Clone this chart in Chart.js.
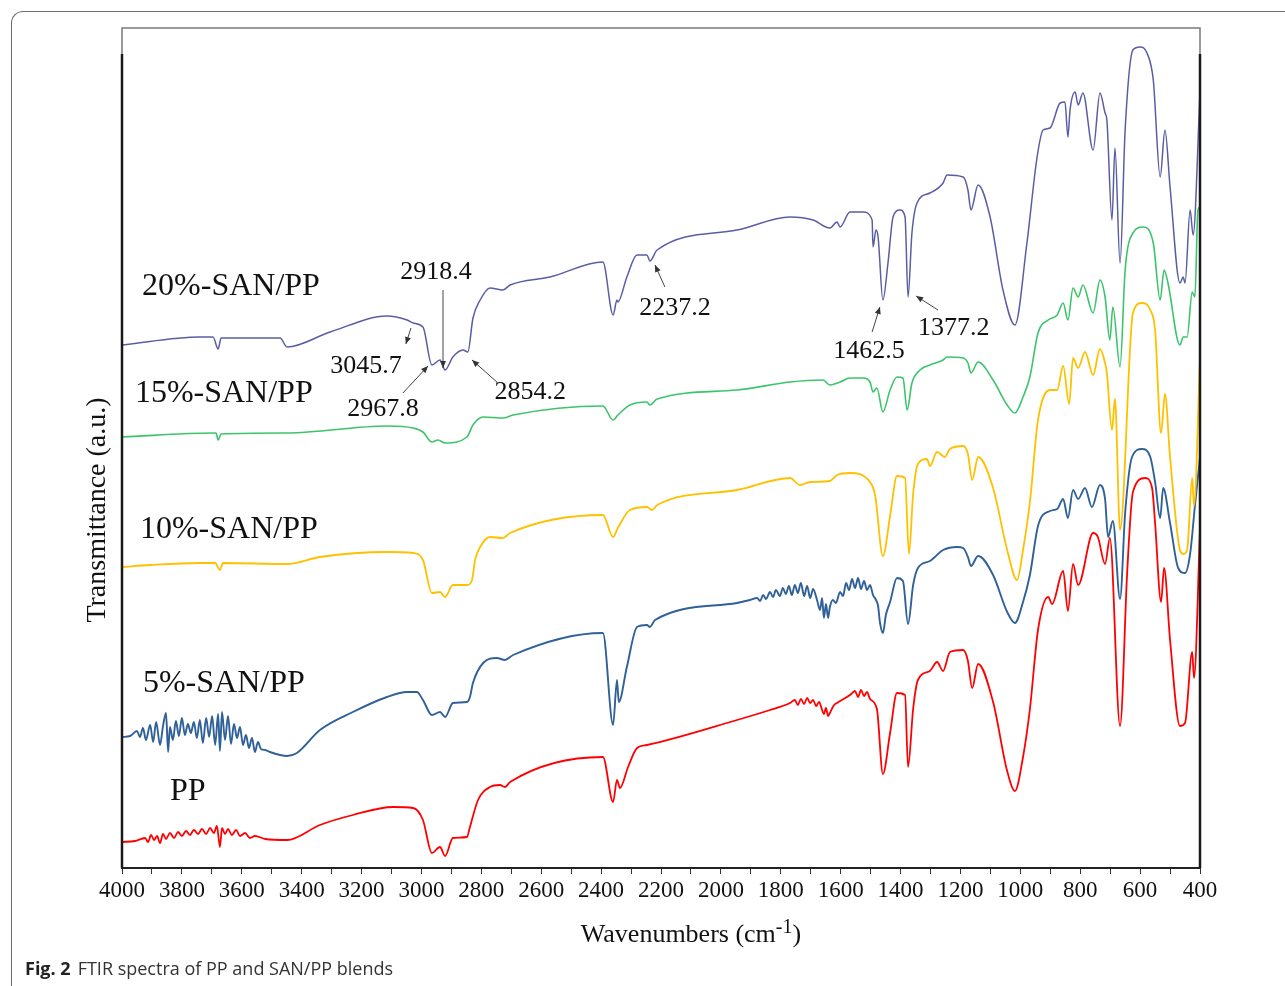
<!DOCTYPE html>
<html lang="en">
<head>
  <meta charset="UTF-8">
  <title>FTIR spectra of PP and SAN/PP blends</title>
  <script src="https://cdn.jsdelivr.net/npm/chart.js"></script>
  <style>
    body { margin: 0; background: #fff; }
    #wrap { position: relative; width: 1285px; height: 986px; overflow: hidden; }
    /* figure box of the journal page */
    #frame {
      position: absolute; left: 11px; top: 11px; width: 1320px; height: 1010px;
      border-top: 1.5px solid #6e6e6e; border-left: 1.5px solid #6e6e6e;
      border-top-left-radius: 12px;
    }
    #box { position: absolute; left: 0; top: 0; width: 1285px; height: 986px; }
    #caption {
      position: absolute; left: 25px; top: 956px;
      font-family: "Open Sans", sans-serif; font-size: 18px; color: #333;
    }
    #caption b { color: #222; margin-right: 7px; }
  </style>
</head>
<body>
<div id="wrap">
  <div id="frame"></div>
  <div id="box"><canvas id="ftir"></canvas></div>
  <div id="caption"><b>Fig. 2</b>FTIR spectra of PP and SAN/PP blends</div>
</div>

<script>
// x tick labels (wavenumber, cm-1)
const xTicks = [4000, 3800, 3600, 3400, 3200, 3000, 2800, 2600, 2400, 2200, 2000, 1800, 1600, 1400, 1200, 1000, 800, 600, 400];

// spectra: [wavenumber, transmittance (a.u., stacked offset)]
const san20 = [
  [4000,523],[3740,531],[3696,531],[3679,519],[3669,530],[3472,530],[3449,521],[3305,536],[3115,552],
  [3048,548],[3028,545],[2995,541],[2965,503],[2938,508],[2921,498],[2895,511],[2861,518],[2845,516],
  [2828,550],[2804,568],[2771,580],[2728,578],[2704,583],[2571,591],[2394,606],[2360,553],[2347,568],
  [2344,566],[2314,591],[2280,613],[2247,613],[2237,607],[2213,618],[1946,638],[1769,651],[1692,648],
  [1636,640],[1612,646],[1602,641],[1569,656],[1525,656],[1495,648],[1492,621],[1482,638],[1475,631],
  [1459,568],[1442,605],[1425,651],[1402,658],[1385,651],[1375,571],[1362,635],[1345,665],[1302,675],
  [1258,685],[1245,693],[1191,691],[1175,678],[1165,658],[1141,683],[1101,651],[1058,578],[1018,543],
  [978,625],[944,711],[924,738],[901,740],[867,765],[851,766],[841,731],[834,758],[817,776],[807,763],
  [791,775],[757,718],[734,775],[717,755],[711,748],[694,648],[684,720],[667,605],[650,738],[624,818],
  [600,821],[577,815],[556,788],[533,691],[517,738],[500,681],[467,585],[456,591],[450,585],[433,658],
  [423,633],[400,775]
];

const san15 = [
  [4000,431],[3696,435],[3686,435],[3679,428],[3669,434],[3449,435],[3115,442],[3028,440],[2995,436],
  [2965,426],[2945,428],[2921,425],[2848,431],[2828,443],[2794,451],[2728,450],[2694,453],[2394,462],
  [2360,448],[2344,453],[2304,463],[2247,466],[2237,463],[2213,469],[1946,478],[1769,486],[1659,488],
  [1636,483],[1602,486],[1569,490],[1525,490],[1502,486],[1492,476],[1479,480],[1459,456],[1435,478],
  [1412,491],[1392,490],[1378,458],[1362,485],[1335,498],[1302,503],[1258,508],[1245,511],[1191,510],
  [1175,505],[1165,495],[1141,506],[1091,488],[1044,463],[1018,455],[991,471],[968,491],[941,535],
  [907,548],[877,553],[857,565],[841,548],[824,580],[807,571],[791,583],[757,555],[734,588],[717,571],
  [701,528],[691,561],[667,501],[650,598],[624,635],[590,641],[556,625],[533,568],[520,598],[507,585],
  [467,523],[456,531],[443,531],[426,576],[417,571],[407,658],[400,661]
];

const san10 = [
  [4000,301],[3906,303],[3740,305],[3689,305],[3673,298],[3663,305],[3449,304],[3339,311],[3115,316],
  [3028,315],[2995,308],[2965,275],[2938,276],[2921,271],[2895,283],[2848,283],[2831,288],[2821,308],
  [2804,321],[2771,331],[2728,330],[2704,335],[2394,353],[2360,331],[2344,340],[2304,358],[2247,361],
  [2230,358],[2213,363],[1946,378],[1769,390],[1736,383],[1702,386],[1636,387],[1612,393],[1569,395],
  [1502,386],[1485,373],[1459,312],[1435,352],[1412,392],[1385,390],[1372,314],[1358,374],[1342,404],
  [1312,409],[1302,402],[1278,416],[1252,411],[1235,419],[1191,422],[1175,414],[1161,388],[1141,411],
  [1091,380],[1044,318],[1011,288],[991,318],[968,366],[941,448],[901,478],[877,478],[857,502],[837,464],
  [824,510],[807,500],[784,516],[757,493],[734,519],[717,505],[711,495],[694,438],[684,469],[667,338],
  [624,555],[594,565],[566,558],[550,538],[530,435],[517,474],[500,411],[467,318],[456,314],[443,318],
  [426,390],[420,362],[400,509]
];

const san5 = [
  [4000,131],[3973,132],[3950,137],[3940,131],[3930,140],[3920,128],[3906,143],[3896,126],[3886,146],
  [3873,123],[3863,142],[3853,155],[3846,116],[3840,141],[3830,128],[3820,147],[3810,132],[3800,150],
  [3790,133],[3780,144],[3770,135],[3760,146],[3750,130],[3740,148],[3730,125],[3719,150],[3709,131],
  [3699,152],[3689,123],[3679,154],[3673,117],[3666,156],[3656,128],[3646,152],[3636,124],[3626,144],
  [3616,130],[3606,141],[3596,123],[3586,133],[3576,120],[3566,130],[3556,116],[3546,126],[3536,119],
  [3522,118],[3506,116],[3472,113],[3449,112],[3416,115],[3339,138],[3229,156],[3115,171],[3048,176],
  [3015,176],[2995,168],[2965,153],[2938,156],[2921,151],[2895,165],[2848,166],[2838,171],[2828,185],
  [2794,205],[2748,210],[2721,208],[2694,213],[2394,235],[2360,143],[2347,188],[2341,166],[2314,201],
  [2280,241],[2247,243],[2237,241],[2220,248],[1946,265],[1903,268],[1879,270],[1869,267],[1859,273],
  [1849,269],[1836,276],[1826,271],[1816,278],[1803,272],[1793,280],[1783,274],[1773,282],[1763,273],
  [1753,283],[1743,275],[1733,285],[1722,272],[1712,282],[1702,270],[1692,279],[1679,268],[1669,258],
  [1662,270],[1656,250],[1649,264],[1642,250],[1636,261],[1626,268],[1616,265],[1602,276],[1592,272],
  [1582,285],[1572,278],[1562,289],[1552,280],[1542,290],[1532,279],[1522,287],[1512,278],[1502,283],
  [1492,273],[1482,268],[1475,262],[1469,246],[1459,235],[1449,253],[1435,266],[1412,290],[1392,287],
  [1375,244],[1358,283],[1342,300],[1302,307],[1258,318],[1211,321],[1191,320],[1175,311],[1165,302],
  [1141,312],[1091,293],[1044,256],[1018,245],[991,266],[968,293],[941,342],[901,357],[877,359],
  [857,369],[841,350],[824,378],[807,369],[784,380],[761,361],[734,383],[717,369],[707,331],[691,347],
  [667,269],[650,355],[627,411],[594,419],[566,411],[550,386],[533,350],[523,380],[500,345],[473,300],
  [450,295],[433,314],[417,362],[400,411]
];

const pp = [
  [4000,26],[3957,27],[3923,30],[3913,26],[3903,33],[3893,28],[3883,32],[3873,25],[3863,34],[3853,29],
  [3840,35],[3826,30],[3813,36],[3800,32],[3786,37],[3773,33],[3760,38],[3746,34],[3733,39],[3719,34],
  [3706,40],[3693,35],[3683,42],[3673,21],[3666,40],[3656,34],[3646,39],[3633,33],[3619,38],[3606,32],
  [3589,35],[3573,30],[3556,32],[3522,29],[3449,28],[3339,43],[3229,53],[3095,61],[3028,60],[2995,48],
  [2965,15],[2938,21],[2921,12],[2895,30],[2848,31],[2838,41],[2811,68],[2771,81],[2738,83],[2721,81],
  [2704,86],[2394,111],[2360,66],[2347,88],[2337,80],[2310,101],[2280,120],[2247,123],[1946,148],
  [1836,158],[1769,165],[1753,168],[1743,163],[1733,169],[1722,164],[1712,170],[1702,165],[1692,168],
  [1682,162],[1672,166],[1662,158],[1656,154],[1649,160],[1642,152],[1636,155],[1622,163],[1612,165],
  [1569,173],[1552,177],[1542,171],[1532,178],[1522,172],[1512,176],[1502,169],[1479,159],[1459,94],
  [1435,135],[1412,175],[1385,173],[1375,101],[1358,159],[1342,188],[1302,197],[1278,206],[1258,197],
  [1235,216],[1191,218],[1175,207],[1161,180],[1141,204],[1091,166],[1044,97],[1018,77],[991,111],
  [968,159],[941,238],[907,271],[894,264],[857,297],[841,257],[824,304],[807,283],[757,335],[741,331],
  [717,304],[701,330],[667,142],[643,297],[624,376],[583,390],[560,380],[550,345],[530,266],[520,300],
  [500,228],[467,142],[450,145],[426,216],[420,190],[400,338]
];

// series labels [text, left wavenumber, baseline a.u.]
const seriesLabels = [
  ['20%-SAN/PP', 3933, 573],
  ['15%-SAN/PP', 3957, 466],
  ['10%-SAN/PP', 3940, 330],
  ['5%-SAN/PP', 3930, 176],
  ['PP', 3840, 68]
];

// peak annotations [text, centre wavenumber, baseline a.u., arrow tail wn, tail au, head wn, head au]
const peakNotes = [
  ['2918.4', 2951, 589, 2928, 578, 2928, 500],
  ['3045.7', 3185, 495, 3035, 540, 3052, 524],
  ['2967.8', 3128, 452, 3062, 475, 2978, 502],
  ['2854.2', 2637, 469, 2748, 486, 2831, 508],
  ['2237.2', 2153, 553, 2187, 581, 2220, 603],
  ['1462.5', 1505, 510, 1495, 536, 1469, 561],
  ['1377.2', 1222, 533, 1275, 558, 1348, 572]
];

const series = [
  { label: '20%-SAN/PP', pts: san20, color: '#5B5DA3', width: 1.5 },
  { label: '15%-SAN/PP', pts: san15, color: '#3CC46C', width: 1.6 },
  { label: '10%-SAN/PP', pts: san10, color: '#FFC000', width: 1.8 },
  { label: '5%-SAN/PP', pts: san5, color: '#2F6198', width: 1.9 },
  { label: 'PP', pts: pp, color: '#FF0000', width: 1.8 }
];

const serif = '"Liberation Serif", "Times New Roman", serif';

// frame lines, labels, arrows, axis titles
const decor = {
  id: 'decor',
  afterDatasetsDraw(chart) {
    const { ctx, chartArea: a, scales: { x, y } } = chart;
    ctx.save();
    // plot box: thin grey top, thick black sides
    ctx.strokeStyle = '#7a7a7a';
    ctx.lineWidth = 1.5;
    ctx.beginPath();
    ctx.moveTo(a.left, a.top + 26); ctx.lineTo(a.left, a.top);
    ctx.lineTo(a.right, a.top); ctx.lineTo(a.right, a.top + 26);
    ctx.stroke();
    ctx.strokeStyle = '#1a1a1a';
    ctx.lineWidth = 2.5;
    ctx.beginPath();
    ctx.moveTo(a.left, a.top + 26); ctx.lineTo(a.left, a.bottom);
    ctx.moveTo(a.right, a.top + 26); ctx.lineTo(a.right, a.bottom);
    ctx.stroke();

    // series labels
    ctx.fillStyle = '#111';
    ctx.font = '32px ' + serif;
    ctx.textAlign = 'left';
    ctx.textBaseline = 'alphabetic';
    seriesLabels.forEach(([t, wn, v]) => ctx.fillText(t, x.getPixelForValue(wn), y.getPixelForValue(v)));

    // peak annotations with arrows
    ctx.font = '26px ' + serif;
    ctx.textAlign = 'center';
    peakNotes.forEach(([t, wn, v, tw, tv, hw, hv]) => {
      ctx.fillStyle = '#111';
      ctx.fillText(t, x.getPixelForValue(wn), y.getPixelForValue(v));
      const x0 = x.getPixelForValue(tw), y0 = y.getPixelForValue(tv);
      const x1 = x.getPixelForValue(hw), y1 = y.getPixelForValue(hv);
      const ang = Math.atan2(y1 - y0, x1 - x0);
      ctx.strokeStyle = '#444';
      ctx.lineWidth = 1;
      ctx.beginPath(); ctx.moveTo(x0, y0); ctx.lineTo(x1, y1); ctx.stroke();
      ctx.fillStyle = '#333';
      ctx.beginPath();
      ctx.moveTo(x1, y1);
      ctx.lineTo(x1 - 7 * Math.cos(ang) + 3 * Math.sin(ang), y1 - 7 * Math.sin(ang) - 3 * Math.cos(ang));
      ctx.lineTo(x1 - 7 * Math.cos(ang) - 3 * Math.sin(ang), y1 - 7 * Math.sin(ang) + 3 * Math.cos(ang));
      ctx.closePath(); ctx.fill();
    });

    // x title with superscript
    ctx.fillStyle = '#111';
    ctx.textAlign = 'left';
    const main = 'Wavenumbers (cm', sup = '-1', end = ')';
    ctx.font = '26px ' + serif;
    const w1 = ctx.measureText(main).width, w3 = ctx.measureText(end).width;
    ctx.font = '20px ' + serif;
    const w2 = ctx.measureText(sup).width;
    let tx = (a.left + a.right) / 2 + 30 - (w1 + w2 + w3) / 2;
    const ty = a.bottom + 74;
    ctx.font = '26px ' + serif;
    ctx.fillText(main, tx, ty);
    ctx.font = '20px ' + serif;
    ctx.fillText(sup, tx + w1, ty - 9);
    ctx.font = '26px ' + serif;
    ctx.fillText(end, tx + w1 + w2, ty);

    // y title
    ctx.save();
    ctx.translate(a.left - 24, (a.top + a.bottom) / 2 + 62);
    ctx.rotate(-Math.PI / 2);
    ctx.textAlign = 'center';
    ctx.textBaseline = 'middle';
    ctx.font = '28px ' + serif;
    ctx.fillText('Transmittance (a.u.)', 0, 0);
    ctx.restore();
    ctx.restore();
  }
};

new Chart(document.getElementById('ftir').getContext('2d'), {
  type: 'line',
  data: {
    datasets: series.map(s => ({
      label: s.label,
      data: s.pts.map(p => ({ x: p[0], y: p[1] })),
      borderColor: s.color,
      borderWidth: s.width,
      pointRadius: 0,
      fill: false,
      cubicInterpolationMode: 'monotone'
    }))
  },
  options: {
    responsive: true,
    maintainAspectRatio: false,
    animation: false,
    layout: { padding: { left: 122, right: 85, top: 28, bottom: 58 } },
    plugins: { legend: { display: false }, tooltip: { enabled: false } },
    scales: {
      x: {
        type: 'linear',
        reverse: true,
        min: 400,
        max: 4000,
        afterFit: s => { s.height = 60; },
        ticks: {
          stepSize: 100,
          autoSkip: false,
          maxRotation: 0,
          padding: 3,
          color: '#111',
          font: { family: serif, size: 23 },
          callback: v => (xTicks.includes(v) ? String(v) : '')
        },
        grid: { drawOnChartArea: false, tickLength: 6, color: '#333', lineWidth: 1 },
        border: { color: '#222', width: 2 }
      },
      y: {
        min: 0,
        max: 840,
        afterFit: s => { s.width = 0; },
        ticks: { display: false },
        grid: { display: false },
        border: { display: false }
      }
    }
  },
  plugins: [decor]
});
</script>
</body>
</html>
